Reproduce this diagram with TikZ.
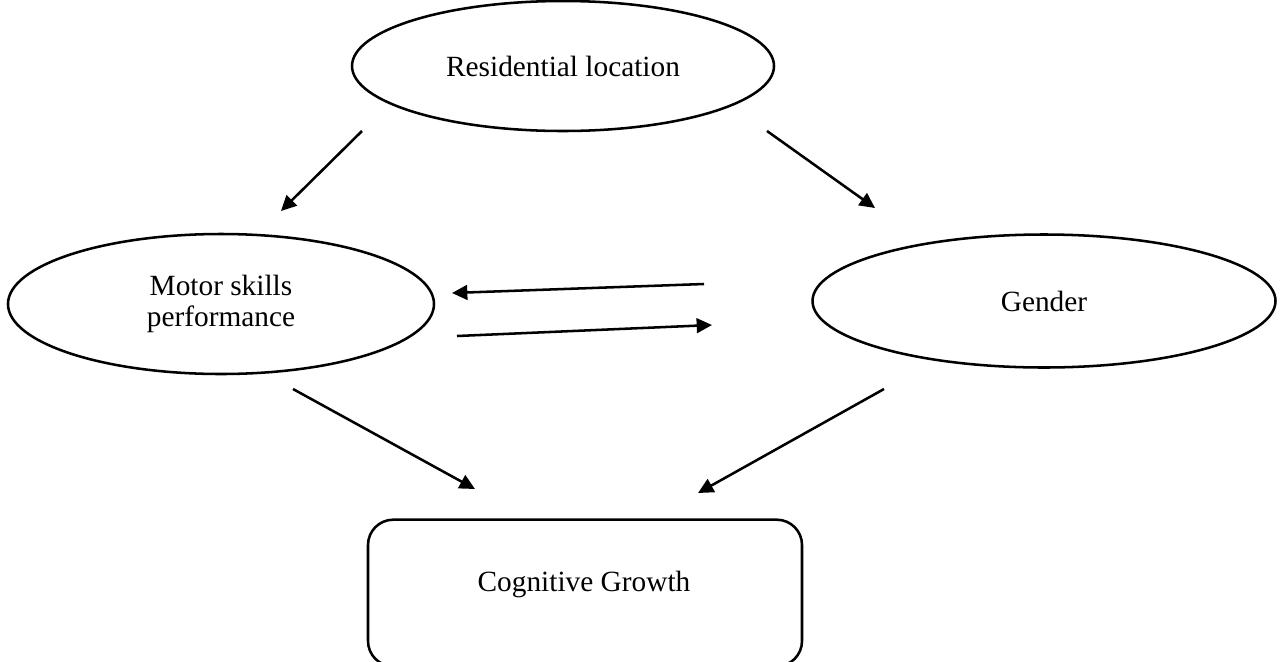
\documentclass[tikz,border=0pt]{standalone}
\usepackage{fontspec}
\setmainfont{Liberation Serif}
\usetikzlibrary{shapes.geometric,arrows.meta}
\begin{document}
\begin{tikzpicture}[x=0.75pt,y=-0.75pt,
  oval/.style={draw,ellipse,line width=1.9pt,inner sep=0pt,font=\fontsize{22}{23.5}\selectfont,align=center},
  box/.style={draw,rectangle,rounded corners=19pt,line width=1.9pt,inner sep=0pt},
  txt/.style={font=\fontsize{22}{23.5}\selectfont,align=center,inner sep=0pt},
  arr/.style={line width=1.9pt,-{Triangle[length=11.5pt,width=11pt]}}]
\useasboundingbox (0,0) rectangle (1281,661);
\node[oval,minimum width=316.5pt,minimum height=97.5pt] (res) at (563,66) {Residential location};
\node[oval,minimum width=319.5pt,minimum height=105pt] (mot) at (221,304) {Motor skills\\performance};
\node[oval,minimum width=347.25pt,minimum height=99.75pt] (gen) at (1044,301) {Gender};
\node[box,minimum width=325.5pt,minimum height=110pt] (cog) at (585,593) {};
\node[txt] (cogt) at (584,584) {Cognitive Growth};
\coordinate (a1s) at (362,131); \coordinate (a1e) at (281,211);
\coordinate (a2s) at (767,131); \coordinate (a2e) at (875,208);
\coordinate (a3s) at (704,284); \coordinate (a3e) at (452,293);
\coordinate (a4s) at (457,336); \coordinate (a4e) at (712,325);
\coordinate (a5s) at (293,389); \coordinate (a5e) at (475,489);
\coordinate (a6s) at (884,389); \coordinate (a6e) at (698,493);
\draw[arr] (a1s) -- (a1e);
\draw[arr] (a2s) -- (a2e);
\draw[arr] (a3s) -- (a3e);
\draw[arr] (a4s) -- (a4e);
\draw[arr] (a5s) -- (a5e);
\draw[arr] (a6s) -- (a6e);
\end{tikzpicture}
\end{document}
